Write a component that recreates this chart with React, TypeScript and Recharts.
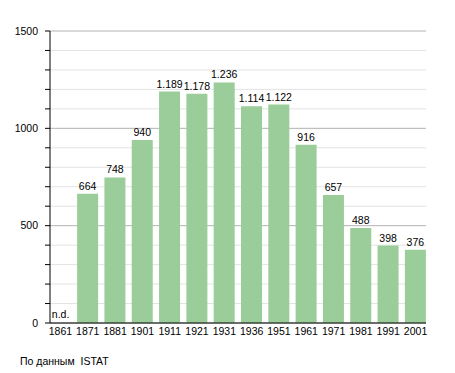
import { Bar, BarChart, CartesianGrid, Cell, LabelList, XAxis, YAxis } from "recharts";

const years = ["1861", "1871", "1881", "1901", "1911", "1921", "1931", "1936", "1951", "1961", "1971", "1981", "1991", "2001"];
const population: (number | null)[] = [null, 664, 748, 940, 1189, 1178, 1236, 1114, 1122, 916, 657, 488, 398, 376];
const yTicks = [0, 100, 200, 300, 400, 500, 600, 700, 800, 900, 1000, 1100, 1200, 1300, 1400, 1500];
const source = "По данным  ISTAT";

const FONT = "'Liberation Sans', Arial, sans-serif";
const FS = 10.5;

const data = years.map((year, i) => ({ year, value: population[i] ?? 0, nd: population[i] == null }));

function fmt(n: number) {
  if (n < 1000) return String(n);
  return `${Math.floor(n / 1000)}.${String(n % 1000).padStart(3, "0")}`;
}

function ValueLabel(props: any) {
  const { x, y, width, height, value } = props;
  if (!value) {
    return (
      <text x={Number(x) + 2} y={Number(y) + Number(height) - 5} fontSize={FS} fontFamily={FONT} fill="#000">
        n.d.
      </text>
    );
  }
  return (
    <text x={Number(x) + Number(width) / 2} y={Number(y) - 4} textAnchor="middle" fontSize={FS} fontFamily={FONT} fill="#000">
      {fmt(Number(value))}
    </text>
  );
}

export default function App() {
  return (
    <div style={{ position: "absolute", left: 0, top: 0, width: 455, height: 373, background: "#fff", fontFamily: FONT }}>
      <BarChart width={455} height={373} data={data} margin={{ top: 31, right: 29, left: 0, bottom: 30 }}>
        <CartesianGrid
          vertical={false}
          horizontal={(p: any) => (
            <line
              key={`g-${p.index}`}
              x1={p.x1}
              y1={p.y1}
              x2={p.x2}
              y2={p.y2}
              stroke={p.index % 5 === 0 ? "#b3b3b3" : "#e3e3e3"}
              strokeWidth={1}
            />
          )}
        />
        <XAxis
          dataKey="year"
          interval={0}
          tickSize={0}
          tickMargin={5}
          height={20}
          padding={{ left: -3.2, right: -3.2 }}
          axisLine={{ stroke: "#000" }}
          tick={{ fontSize: FS, fill: "#000", fontFamily: FONT }}
        />
        <YAxis
          width={50}
          domain={[0, 1500]}
          ticks={yTicks}
          interval={0}
          tickSize={5}
          tickMargin={7}
          axisLine={{ stroke: "#000" }}
          tickLine={{ stroke: "#000" }}
          tickFormatter={(v: number) => (v % 500 === 0 ? String(v) : "")}
          tick={{ fontSize: FS, fill: "#000", fontFamily: FONT }}
        />
        <Bar
          dataKey="value"
          fill="#9acd99"
          barSize={21}
          minPointSize={(v: number) => (v === 0 ? 1 : 0)}
          isAnimationActive={false}
        >
          {data.map((d) => (
            <Cell key={d.year} fill={d.nd ? "transparent" : "#9acd99"} />
          ))}
          <LabelList dataKey="value" content={ValueLabel} />
        </Bar>
      </BarChart>
      <div style={{ position: "absolute", left: 20, top: 355, fontSize: 10.5, whiteSpace: "pre", color: "#000" }}>
        {source}
      </div>
    </div>
  );
}
